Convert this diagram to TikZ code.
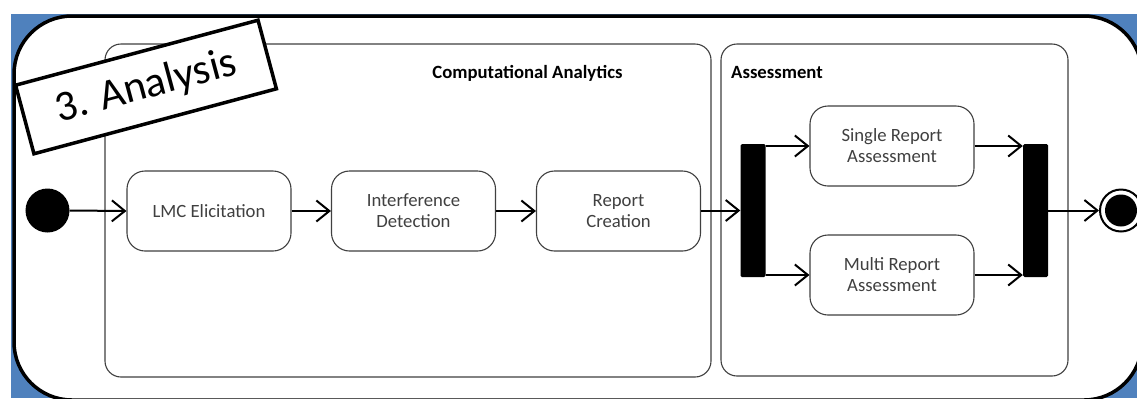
\documentclass[tikz,border=0pt]{standalone}
\usepackage{fontspec}
\setmainfont{Carlito}
\usetikzlibrary{arrows.meta}
\definecolor{bgblue}{RGB}{79,129,189}
\definecolor{framegray}{RGB}{64,64,64}
\begin{document}
\begin{tikzpicture}[x=1bp,y=-1bp,
  act/.style={draw=framegray, line width=1.1bp, rounded corners=18bp, minimum width=164bp, minimum height=80bp, align=center, text=framegray, font=\fontsize{18.7bp}{21bp}\selectfont, inner sep=0pt},
  region/.style={draw=framegray, line width=1.1bp, rounded corners=16bp},
  flow/.style={line width=2bp, -{Straight Barb[length=13bp,width=21bp]}},
  syncbar/.style={fill=black, minimum width=25bp, minimum height=133bp, inner sep=0pt, rounded corners=1.5bp},
  regiontitle/.style={font=\bfseries\fontsize{18.7bp}{21bp}\selectfont, inner sep=0pt},
  bigtitle/.style={draw, line width=3.5bp, fill=white, rotate=15, minimum width=251bp, minimum height=71bp, inner sep=0pt, font=\fontsize{43bp}{46bp}\selectfont}]
\useasboundingbox (0,0) rectangle (1137,398);
% background
\fill[bgblue] (11,14) rectangle (1137,398);
\draw[line width=3.5bp, fill=white, rounded corners=58bp] (14,16) rectangle (1142,400);
% regions
\draw[region] (105,44) rectangle (711,377);
\draw[region] (721,44) rectangle (1068,376);
\node[regiontitle] (tca) at (527.5,73) {Computational Analytics};
\node[regiontitle] (tas) at (777,72) {Assessment};
% label
\node[bigtitle] (ana) at (146,87) {3. Analysis};
% nodes
\node[circle, fill=black, minimum size=44bp, inner sep=0pt] (init) at (47.5,210.5) {};
\node[act] (lmc) at (209,211) {LMC Elicitation};
\node[act] (intf) at (413.5,211) {Interference\\Detection};
\node[act] (rep) at (618.5,211) {Report\\Creation};
\node[syncbar] (fork) at (753,210.5) {};
\node[act] (single) at (892,146) {Single Report\\Assessment};
\node[act] (multi) at (892,275) {Multi Report\\Assessment};
\node[syncbar] (join) at (1035.5,210.5) {};
\node[circle, draw=black, line width=2bp, fill=white, minimum size=42bp, inner sep=0pt] (final) at (1121,210.5) {};
\node[circle, fill=black, minimum size=32bp, inner sep=0pt] (finalin) at (final.center) {};
% connectors
\draw[flow] (init.east) -- (lmc.west);
\draw[flow] (lmc.east) -- (intf.west);
\draw[flow] (intf.east) -- (rep.west);
\draw[flow] (rep.east |- fork.west) -- (fork.west);
\draw[flow] (fork.east |- single.west) -- (single.west);
\draw[flow] (fork.east |- multi.west) -- (multi.west);
\draw[flow] (single.east) -- (single.east -| join.west);
\draw[flow] (multi.east) -- (multi.east -| join.west);
\draw[flow] (join.east) -- (final.west);
\end{tikzpicture}
\end{document}
